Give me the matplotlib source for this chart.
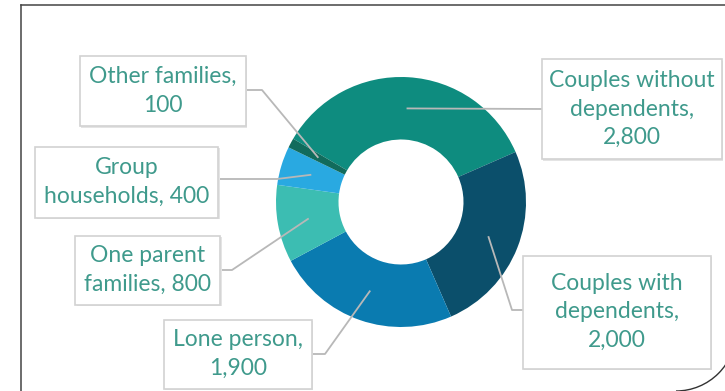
import numpy as np
import matplotlib
matplotlib.use("Agg")
from matplotlib import pyplot as plt
from matplotlib.patches import Rectangle, Arc

# household types, clockwise from the top-left
labels = ["Couples without\ndependents,\n2,800", "Couples with\ndependents,\n2,000",
          "Lone person,\n1,900", "One parent\nfamilies, 800",
          "Group\nhouseholds, 400", "Other families,\n100"]
values = [2800, 2000, 1900, 800, 400, 100]
colors = ["#0e8c7f", "#0b4f6b", "#0a7bb0", "#3cbdb2", "#29a9e1", "#116b5c"]

W, H = 725, 391
fig = plt.figure(figsize=(W / 100, H / 100), dpi=100)
ax = fig.add_axes([0, 0, 1, 1])

# pixel helper (y measured from top)
def px(x, y):
    return x, H - y

cx, cy = px(401, 202)
R = 125
start = 149.6
wedges, _ = ax.pie(values, colors=colors, startangle=start, counterclock=False,
                   radius=R, center=(cx, cy), wedgeprops=dict(width=R * 0.5, linewidth=0),
                   frame=True)
ax.set_xlim(0, W)
ax.set_ylim(0, H)
ax.set_aspect("equal")
ax.axis("off")

# label boxes: centre, size, elbow point of the leader line (pixels from top-left)
boxes = [
    ((632, 109), (180, 100), (542, 109)),
    ((617, 312), (188, 113), (512, 310)),
    ((238, 354), (148, 69), (325, 354)),
    ((148, 270), (145, 69), (232, 270)),
    ((127, 182), (183, 71), (277, 179)),
    ((163, 91), (166, 70), (262, 90)),
]

for w, lab, (bc, bs, elbow) in zip(wedges, labels, boxes):
    mid = np.deg2rad((w.theta1 + w.theta2) / 2)
    sx = cx + 0.75 * R * np.cos(mid)
    sy = cy + 0.75 * R * np.sin(mid)
    bx, by = px(*bc)
    ex, ey = px(*elbow)
    edge_x = bx - bs[0] / 2 if ex < bx else bx + bs[0] / 2
    ax.plot([sx, ex, edge_x], [sy, ey, ey], color="#b8b8b8", lw=1.3,
            solid_capstyle="butt", zorder=3)
    ax.add_patch(Rectangle((bx - bs[0] / 2 + 1.5, by - bs[1] / 2 - 1.5), bs[0], bs[1],
                           facecolor="#e4e4e4", edgecolor="none", zorder=4))
    ax.add_patch(Rectangle((bx - bs[0] / 2, by - bs[1] / 2), bs[0], bs[1],
                           facecolor="white", edgecolor="#d2d2d2", lw=1.2, zorder=5))
    ax.text(bx, by, lab, ha="center", va="center", color="#3f9a8c",
            family="Lato", fontsize=16.5, linespacing=1.46, zorder=6)

# outer frame of the panel
ax.plot([21, 21], [0, H - 5], color="#444444", lw=1.1)
ax.plot([21, W], [H - 5, H - 5], color="#444444", lw=1.1)
ax.add_patch(Arc((676, H - 331), 120, 120, theta1=-90, theta2=0,
                 color="#333333", lw=1.0))

fig.savefig("out.png", dpi=100)
